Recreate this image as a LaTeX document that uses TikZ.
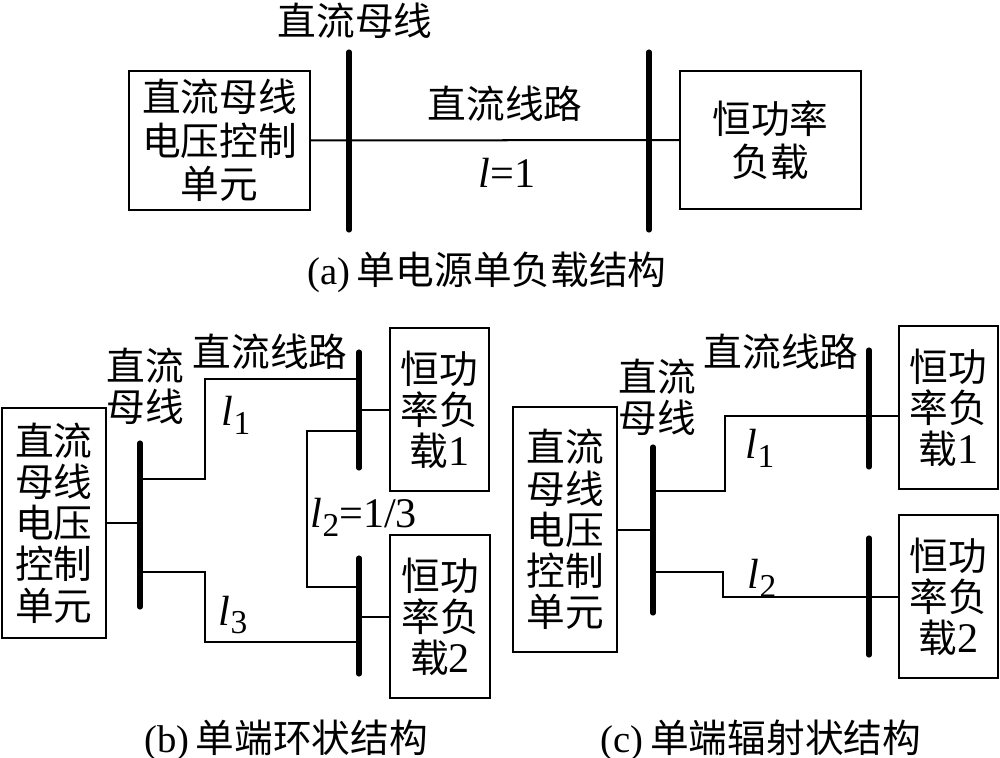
\documentclass[tikz,border=0pt]{standalone}
\usepackage{fontspec}
\setmainfont{Liberation Serif}
\newfontfamily\cjk{Noto Sans CJK SC}
\newcommand\lsub[1]{\textit{l}\raisebox{-0.45ex}{\fontsize{9.5}{10}\selectfont #1}}
\newcommand\num[1]{{\rmfamily\fontsize{12}{11.7}\selectfont #1}}

\begin{document}
\begin{tikzpicture}[
  x=0.01cm, y=-0.01cm,
  box/.style={draw, line width=0.6pt, align=center, inner sep=0pt, font=\fontsize{11}{11.7}\selectfont\cjk},
  boxwide/.style={box, font=\fontsize{11}{12.4}\selectfont\cjk},
  lbl/.style={inner sep=0pt, align=center, font=\fontsize{11}{11.7}\selectfont\cjk},
  var/.style={inner sep=0pt, font=\fontsize{12}{12}\selectfont},
  wire/.style={line width=0.57pt},
  bus/.style={line width=1.45pt, line cap=round}
]
\useasboundingbox (0,0) rectangle (1000,757);

% (a) single source, single load
\node[boxwide, minimum width=1.81cm, minimum height=1.39cm] (srcA) at (219.5,140.5) {直流母线\\电压控制\\单元};
\node[boxwide, minimum width=1.81cm, minimum height=1.38cm] (loadA) at (770.5,140) {恒功率\\负载};
\coordinate (a1t) at (349,52);  \coordinate (a1b) at (349,230);
\coordinate (a2t) at (649,52);  \coordinate (a2b) at (649,230);
\draw[bus] (a1t) -- (a1b);
\draw[bus] (a2t) -- (a2b);
\draw[wire] (srcA) -- (loadA);
\node[lbl] (busA) at (355,21) {直流母线};
\node[lbl] (lineA) at (505,104) {直流线路};
\node[var] (lenA) at (507,173) {\textit{l}=1};
\node[lbl] (capA) at (487,272) {\textrm{(a)}\,单电源单负载结构};

% (b) single-ended ring
\node[box, minimum width=1.04cm, minimum height=2.30cm] (srcB) at (54,523) {直流\\母线\\电压\\控制\\单元};
\node[box, minimum width=0.99cm, minimum height=1.63cm] (loadB1) at (439.5,409.5) {恒功\\率负\\载\num{1}};
\node[box, minimum width=1.00cm, minimum height=1.63cm] (loadB2) at (440,616.5) {恒功\\率负\\载\num{2}};
\coordinate (b1t) at (140,443);  \coordinate (b1b) at (140,607);
\coordinate (b2t) at (359,352);  \coordinate (b2b) at (359,468);
\coordinate (b3t) at (359,558);  \coordinate (b3b) at (359,674);
\coordinate (b1u) at (140,479);  \coordinate (b1l) at (140,572);
\coordinate (b2u) at (359,379);  \coordinate (b2l) at (359,431);
\coordinate (b3l) at (359,587);  \coordinate (b3u) at (359,642);
\draw[bus] (b1t) -- (b1b);
\draw[bus] (b2t) -- (b2b);
\draw[bus] (b3t) -- (b3b);
\draw[wire] (srcB.east) -- (srcB.east -| b1t);
\draw[wire] (b1u) -- ++(65,0) |- (b2u);
\draw[wire] (b1l) -- ++(65,0) |- (b3u);
\draw[wire] (b2l) -- ++(-52,0) |- (b3l);
\draw[wire] (loadB1.west) -- (loadB1.west -| b2t);
\draw[wire] (loadB2.west) -- (loadB2.west -| b3t);
\node[lbl] (busB) at (145,386) {直流\\母线};
\node[lbl] (lineB) at (270,352) {直流线路};
\node[var] (lenB1) at (236,415) {\lsub{1}};
\node[var] (lenB2) at (364,517) {\lsub{2}=1/3};
\node[var] (lenB3) at (233,615) {\lsub{3}};
\node[lbl] (capB) at (286,740) {\textrm{(b)}\,单端环状结构};

% (c) single-ended radial
\node[box, minimum width=1.04cm, minimum height=2.45cm] (srcC) at (565,529.5) {直流\\母线\\电压\\控制\\单元};
\node[box, minimum width=0.99cm, minimum height=1.63cm] (loadC1) at (948.5,407.5) {恒功\\率负\\载\num{1}};
\node[box, minimum width=0.99cm, minimum height=1.63cm] (loadC2) at (948.5,596.5) {恒功\\率负\\载\num{2}};
\coordinate (c1t) at (653,447);  \coordinate (c1b) at (653,613);
\coordinate (c2t) at (869,350);  \coordinate (c2b) at (869,467);
\coordinate (c3t) at (869,538);  \coordinate (c3b) at (869,655);
\coordinate (c1u) at (653,491);  \coordinate (c1l) at (653,572);
\coordinate (c2u) at (869,416);  \coordinate (c3u) at (869,597);
\draw[bus] (c1t) -- (c1b);
\draw[bus] (c2t) -- (c2b);
\draw[bus] (c3t) -- (c3b);
\draw[wire] (srcC.east) -- (srcC.east -| c1t);
\draw[wire] (c1u) -- ++(72,0) |- (loadC1.west |- c2u);
\draw[wire] (c1l) -- ++(70,0) |- (loadC2.west |- c3u);
\node[lbl] (busC) at (657,397) {直流\\母线};
\node[lbl] (lineC) at (781,352) {直流线路};
\node[var] (lenC1) at (760,448) {\lsub{1}};
\node[var] (lenC2) at (762,578) {\lsub{2}};
\node[lbl] (capC) at (761,740) {\textrm{(c)}\,单端辐射状结构};

\end{tikzpicture}
\end{document}
